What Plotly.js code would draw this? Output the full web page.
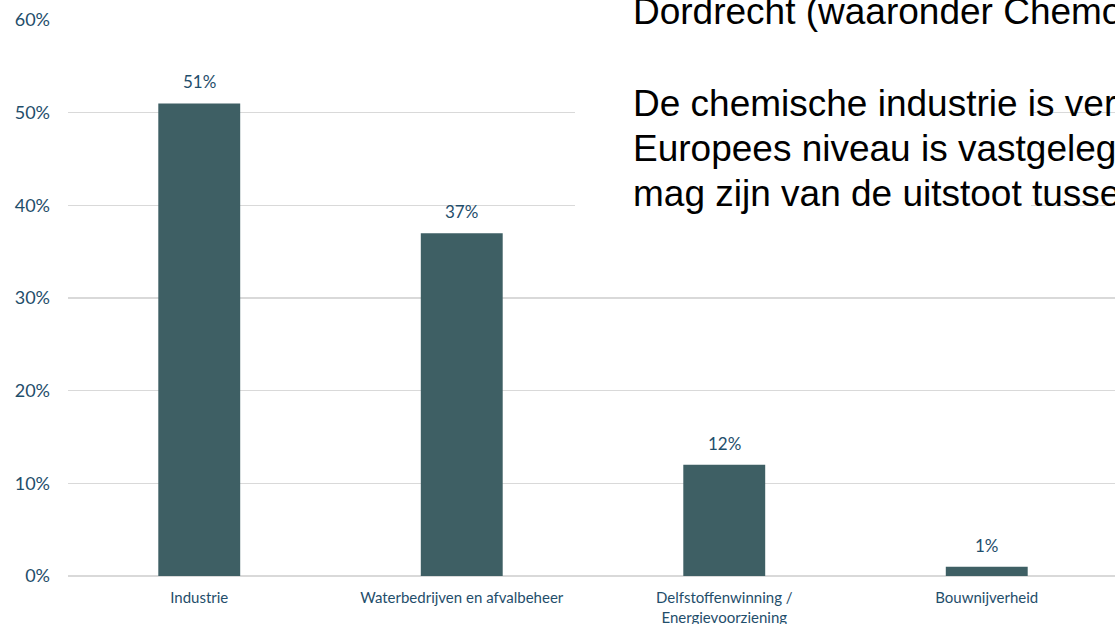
<!DOCTYPE html>
<html>
<head>
<meta charset="utf-8">
<script src="https://cdn.plot.ly/plotly-3.0.1.min.js"></script>
<style>
  html, body { margin: 0; padding: 0; background: #ffffff; overflow: hidden; }
  #chart { width: 1115px; height: 624px; }
</style>
</head>
<body>
<div id="chart"></div>
<script>
// ---- Data ----
const categories = ['Industrie', 'Waterbedrijven en afvalbeheer', 'Delfstoffenwinning /<br>Energievoorziening', 'Bouwnijverheid'];
const shares = [0.51, 0.37, 0.12, 0.01];
const shareLabels = ['51%', '37%', '12%', '1%'];
const yTickValues = [0, 0.1, 0.2, 0.3, 0.4, 0.5, 0.6];
const yTickLabels = ['0%', '10%', '20%', '30%', '40%', '50%', '60%'];
const overlayLines = ['Dordrecht (waaronder Chemours)', 'De chemische industrie is verantwoordelijk', 'Europees niveau is vastgelegd dat', 'mag zijn van de uitstoot tussen'];

// ---- Style ----
const W = 1115, H = 624;
const M = { l: 68, r: 0, t: 20, b: 48 };
const plotW = W - M.l - M.r, plotH = H - M.t - M.b;
const px2x = p => (p - M.l) / plotW;
const px2y = p => (H - M.b - p) / plotH;
const labelColor = '#1F4E6B';
const axisFont = 'Lato, "Noto Sans", sans-serif';

const trace = {
  type: 'bar',
  x: categories,
  y: shares,
  width: 0.312,
  marker: { color: '#3E5F64', line: { width: 0 } },
  hoverinfo: 'skip'
};

const dataLabelAnn = categories.map((c, i) => ({
  x: c, y: shares[i], xref: 'x', yref: 'y',
  text: shareLabels[i], showarrow: false,
  yanchor: 'bottom', yshift: 9,
  font: { family: axisFont, size: 17, color: labelColor }
}));

// overlay slide text, one annotation per line (pixel baselines)
const overlayBaselines = [25, 117, 162, 207];
const overlaySize = 37;
const overlayFont = { family: '"Liberation Sans", Arial, sans-serif', size: overlaySize, color: '#000000' };
const overlayAnn = overlayLines.map((t, i) => ({
  xref: 'paper', yref: 'paper', x: px2x(631), y: px2y(overlayBaselines[i] - 0.97 * overlaySize),
  xanchor: 'left', yanchor: 'top', align: 'left', showarrow: false,
  text: t, font: overlayFont
}));

const layout = {
  width: W, height: H,
  margin: M,
  paper_bgcolor: '#ffffff', plot_bgcolor: '#ffffff',
  showlegend: false,
  xaxis: {
    type: 'category',
    range: [-0.5, -0.5 + plotW / 262.5],
    showgrid: false, showline: false, zeroline: false,
    ticks: '', ticklabelstandoff: 11,
    tickfont: { family: axisFont, size: 15, color: labelColor },
    fixedrange: true
  },
  yaxis: {
    range: [0, 0.6],
    tickvals: yTickValues, ticktext: yTickLabels,
    showgrid: true, gridcolor: '#D9D9D9', gridwidth: 1.5,
    zeroline: true, zerolinecolor: '#D9D9D9', zerolinewidth: 1.5,
    showline: false, ticks: '', ticklabelstandoff: 17,
    tickfont: { family: axisFont, size: 18, color: labelColor },
    fixedrange: true
  },
  shapes: [{
    type: 'rect', xref: 'paper', yref: 'paper',
    x0: px2x(575), x1: px2x(1031), y0: px2y(252), y1: px2y(-5),
    fillcolor: '#ffffff', line: { width: 0 }, layer: 'above'
  }],
  annotations: dataLabelAnn.concat(overlayAnn)
};

Plotly.newPlot('chart', [trace], layout, { staticPlot: true, displayModeBar: false });
</script>
</body>
</html>
